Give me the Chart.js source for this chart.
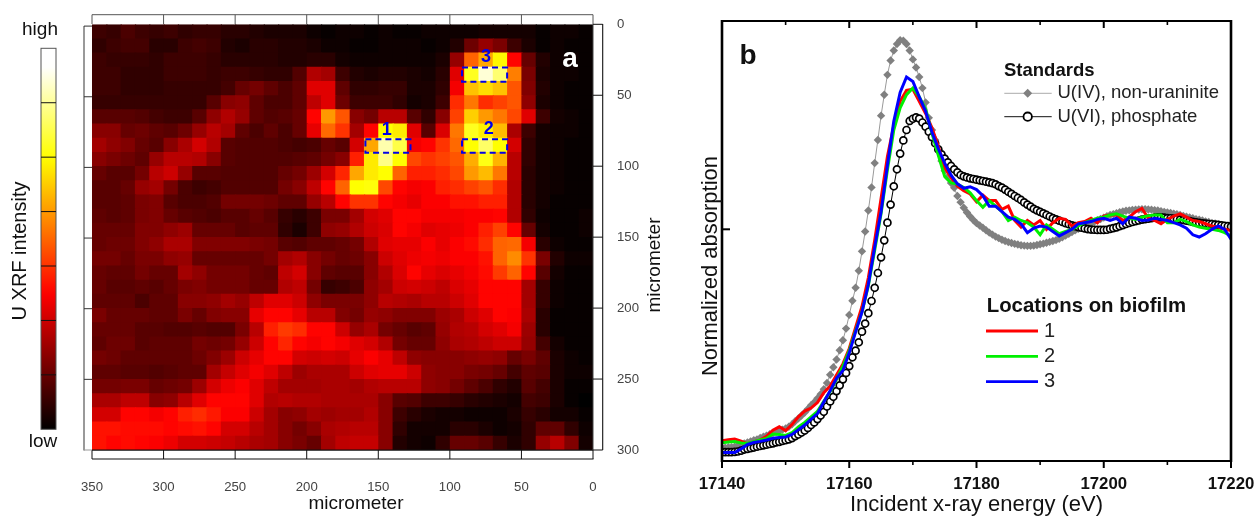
<!DOCTYPE html>
<html>
<head>
<meta charset="utf-8">
<style>
html,body{margin:0;padding:0;background:#fff;width:1258px;height:516px;overflow:hidden}
canvas{position:absolute;top:0;display:block}
#mapChart{left:0}
#specChart{left:690px}
</style>
<script src="https://cdn.jsdelivr.net/npm/chart.js@4"></script>
</head>
<body>
<canvas id="mapChart" width="680" height="516"></canvas>
<canvas id="specChart" width="568" height="516"></canvas>
<script>
// ---------- panel a: U XRF intensity (percent of colour scale), row 0 = 0-10 micrometer, col 0 = 340-350 micrometer
const intensityRows = [
[9,8,11,9,8,9,7,8,8,6,6,5,4,4,4,2,1,2,2,1,2,1,1,2,2,2,2,3,3,3,3,1,2,2,1],
[7,9,10,10,6,6,9,10,9,5,4,6,6,5,5,4,2,2,1,1,2,2,2,1,2,5,16,22,18,9,4,1,2,1,1],
[9,8,8,8,7,9,9,9,8,6,6,6,6,5,5,6,6,3,2,2,2,2,2,2,4,22,52,62,74,38,15,5,2,2,1],
[9,9,7,7,7,9,9,9,8,9,9,8,7,7,12,26,24,9,5,4,5,5,4,3,6,33,78,96,86,56,18,4,2,2,1],
[9,9,7,7,7,8,8,8,8,10,15,17,14,11,14,33,33,14,7,7,8,8,4,4,7,36,66,70,66,50,19,5,2,1,1],
[8,8,8,8,8,8,8,8,13,20,21,14,11,11,14,28,33,16,9,9,9,7,3,4,9,44,55,44,47,50,21,4,2,1,1],
[13,13,13,12,10,9,9,13,21,26,22,14,12,13,15,38,60,50,20,17,27,27,13,7,20,47,68,60,55,48,33,9,3,2,1],
[20,20,15,16,14,13,16,22,27,24,14,11,14,11,15,34,53,45,24,38,75,72,33,13,32,55,78,73,65,25,9,3,2,2,1],
[24,21,19,15,13,20,25,31,26,13,12,12,12,11,10,11,15,13,31,62,92,82,36,38,45,53,75,85,75,31,7,3,2,1,1],
[20,18,16,14,22,27,27,26,20,13,12,12,12,12,13,14,17,20,42,72,88,75,48,45,47,50,63,77,64,27,7,3,2,1,1],
[15,13,13,17,27,30,22,13,13,12,12,12,12,15,17,23,31,43,62,72,75,52,42,42,44,48,60,65,55,27,6,3,2,1,1],
[13,13,15,22,24,17,11,9,10,12,12,12,12,17,20,28,38,52,75,76,48,38,36,37,42,44,47,50,44,26,6,3,2,1,1],
[13,13,14,18,19,13,11,11,12,17,17,17,16,14,14,22,27,38,45,45,38,36,34,37,37,40,40,42,42,26,6,3,1,1,1],
[14,13,14,18,19,15,13,12,11,13,13,15,13,8,6,9,18,18,24,31,33,38,38,36,36,36,37,37,38,26,7,2,1,1,2],
[15,15,15,19,19,21,23,15,15,15,13,14,14,7,4,9,21,22,26,30,32,38,36,33,34,35,37,42,47,38,15,3,1,1,2],
[15,16,16,19,21,25,25,19,19,19,19,18,17,13,12,14,14,15,17,26,33,34,34,37,34,37,39,44,52,53,36,6,2,1,1],
[17,17,15,18,18,21,22,15,15,15,15,15,17,24,26,20,17,15,16,20,30,33,35,36,35,37,37,40,52,58,45,18,5,2,2],
[15,14,14,17,15,15,24,21,17,17,17,15,14,28,31,20,14,13,13,20,26,32,38,34,32,34,36,39,46,52,38,13,3,1,1],
[15,13,13,14,13,15,18,19,17,17,17,15,15,26,28,17,8,9,11,21,24,30,31,30,28,32,34,38,38,38,24,8,2,1,1],
[14,14,14,11,14,14,20,20,21,24,22,28,33,33,30,21,18,18,18,21,27,26,25,27,27,30,33,38,38,38,24,8,2,1,1],
[18,15,15,15,14,14,18,15,19,20,20,34,38,38,34,27,27,19,17,22,21,19,19,19,23,25,30,33,38,37,25,6,1,1,1],
[15,15,15,13,13,12,12,13,12,12,18,27,42,46,44,38,38,30,22,25,17,15,13,14,22,26,27,31,33,36,23,6,1,1,1],
[14,16,16,13,14,14,14,17,16,17,22,30,38,43,38,36,38,36,33,31,26,17,15,15,21,25,26,28,30,30,22,10,3,1,1],
[17,16,14,14,14,14,14,16,19,23,30,34,38,38,31,30,31,30,34,37,34,28,21,20,20,20,21,22,21,15,18,14,4,2,1],
[14,14,13,13,12,13,14,14,24,29,33,36,33,28,23,25,25,25,30,33,34,34,30,21,20,20,18,17,15,10,14,13,4,2,2],
[17,17,18,18,15,16,17,23,31,35,37,33,28,24,24,24,25,25,24,26,27,27,27,21,20,17,14,11,7,5,13,10,4,1,1],
[25,25,28,28,20,21,27,33,38,38,38,33,26,27,26,26,25,25,25,25,20,13,12,9,9,8,6,5,4,3,10,9,4,1,0],
[31,31,38,38,36,38,42,44,41,37,37,30,24,20,21,24,23,24,24,26,20,9,6,4,3,3,2,2,2,4,8,6,3,3,1],
[40,40,39,39,39,38,39,40,38,31,31,27,24,20,17,20,25,26,27,27,20,7,3,3,3,6,6,4,2,3,7,14,14,7,2],
[40,38,39,38,37,35,31,31,30,29,27,25,24,20,18,15,24,28,29,29,20,5,3,2,7,15,15,13,8,4,7,22,27,19,3]
];
const mapXTicks = [350,300,250,200,150,100,50,0];
const mapYTicks = [0,50,100,150,200,250,300];
const regionLabels = ['1','2','3'];
const regionX0 = [159,91.5,91.5];
const regionX1 = [127.5,60,60];
const regionY0 = [81,81,30.5];
const regionY1 = [90.5,90.5,40.5];

// ---------- panel b: normalized absorption spectra
const energyHalf = [17140,17140.5,17141,17141.5,17142,17142.5,17143,17143.5,17144,17144.5,17145,17145.5,17146,17146.5,17147,17147.5,17148,17148.5,17149,17149.5,17150,17150.5,17151,17151.5,17152,17152.5,17153,17153.5,17154,17154.5,17155,17155.5,17156,17156.5,17157,17157.5,17158,17158.5,17159,17159.5,17160,17160.5,17161,17161.5,17162,17162.5,17163,17163.5,17164,17164.5,17165,17165.5,17166,17166.5,17167,17167.5,17168,17168.5,17169,17169.5,17170,17170.5,17171,17171.5,17172,17172.5,17173,17173.5,17174,17174.5,17175,17175.5,17176,17176.5,17177,17177.5,17178,17178.5,17179,17179.5,17180,17180.5,17181,17181.5,17182,17182.5,17183,17183.5,17184,17184.5,17185,17185.5,17186,17186.5,17187,17187.5,17188,17188.5,17189,17189.5,17190,17190.5,17191,17191.5,17192,17192.5,17193,17193.5,17194,17194.5,17195,17195.5,17196,17196.5,17197,17197.5,17198,17198.5,17199,17199.5,17200,17200.5,17201,17201.5,17202,17202.5,17203,17203.5,17204,17204.5,17205,17205.5,17206,17206.5,17207,17207.5,17208,17208.5,17209,17209.5,17210,17210.5,17211,17211.5,17212,17212.5,17213,17213.5,17214,17214.5,17215,17215.5,17216,17216.5,17217,17217.5,17218,17218.5,17219,17219.5,17220];
const energyWhole = [17140,17141,17142,17143,17144,17145,17146,17147,17148,17149,17150,17151,17152,17153,17154,17155,17156,17157,17158,17159,17160,17161,17162,17163,17164,17165,17166,17167,17168,17169,17170,17171,17172,17173,17174,17175,17176,17177,17178,17179,17180,17181,17182,17183,17184,17185,17186,17187,17188,17189,17190,17191,17192,17193,17194,17195,17196,17197,17198,17199,17200,17201,17202,17203,17204,17205,17206,17207,17208,17209,17210,17211,17212,17213,17214,17215,17216,17217,17218,17219,17220];
const uIVValues = [.008,.01,.012,.013,.015,.02,.026,.03,.034,.039,.044,.048,.054,.06,.065,.071,.077,.082,.087,.092,.097,.105,.116,.13,.143,.156,.17,.186,.203,.216,.234,.253,.275,.304,.341,.375,.41,.452,.497,.55,.612,.676,.735,.812,.9,.99,1.085,1.19,1.3,1.405,1.515,1.61,1.7,1.765,1.81,1.84,1.857,1.855,1.84,1.81,1.77,1.733,1.69,1.64,1.575,
1.505,1.45,1.405,1.36,1.31,1.265,1.235,1.21,1.188,1.151,1.123,1.098,1.076,1.058,1.042,1.028,1.017,1.007,.996,.985,.976,.967,.96,.953,.947,.942,.938,.934,.931,.928,.926,.925,.925,.926,.929,.932,.935,.939,.943,.947,.951,.957,.964,.972,.98,.988,.995,1.002,1.009,1.016,1.021,1.027,1.034,1.041,1.047,1.053,1.059,1.065,1.069,1.073,1.077,1.081,1.084,1.086,1.088,1.089,1.09,1.091,1.091,1.09,1.089,1.087,1.085,1.082,1.079,1.076,1.074,1.071,1.068,1.065,1.061,1.057,1.054,1.05,1.046,1.043,1.04,1.036,1.033,1.029,1.026,1.022,1.02,1.016,1.013,1.01];
const uVIValues = [-.01,-.01,-.01,-.01,-.009,-.007,-.003,.002,.005,.008,.011,.015,.018,.021,.024,.027,.03,.034,.037,.041,.044,.048,.054,.063,.07,.079,.088,.1,.113,.125,.14,.156,.173,.197,.22,.241,.267,.293,.32,.349,.38,.42,.45,.488,.536,.573,.62,.675,.735,.802,.873,.95,1.03,1.112,1.195,1.272,1.343,1.403,1.45,1.491,1.501,1.507,1.502,1.484,1.465,1.442,1.418,1.39,1.362,1.34,1.32,1.303,1.287,1.272,1.258,1.246,1.24,1.235,1.231,1.228,1.225,1.222,1.219,1.216,1.213,1.209,1.204,1.196,1.189,1.18,1.17,1.161,1.151,1.142,1.133,1.122,1.112,1.103,1.093,1.086,1.079,1.072,1.065,1.058,1.051,1.045,1.039,1.033,1.028,1.023,1.018,1.014,1.01,1.007,1.004,1.001,.999,.998,.997,.997,.997,.998,1.002,1.005,1.009,1.014,1.019,1.024,1.029,1.033,1.037,1.04,1.044,1.046,1.048,1.05,1.053,1.054,1.054,1.053,1.051,1.05,1.048,1.046,1.044,1.042,1.039,1.037,1.034,1.031,1.029,1.027,1.026,1.024,1.023,1.021,1.02,1.018,1.016,1.014,1.012];
const location1Values = [.042,.046,.05,.04,.028,.036,.046,.062,.09,.105,.088,.115,.15,.176,.19,.215,.26,.29,.34,.39,.46,.555,.65,.78,.95,1.14,1.33,1.47,1.58,1.63,1.635,1.58,1.525,1.46,1.375,1.28,1.235,1.195,1.175,1.16,1.125,1.155,1.13,1.13,1.09,1.105,1.04,1.01,1.04,1.02,1.04,1,1.03,1.05,1.045,1.015,1.03,1.035,1.05,1.03,1.06,1.065,1.065,1.04,1.055,1.08,1.095,1.05,1.04,1.025,1.045,1.06,1.07,1.055,1.04,1.035,1.025,1.015,1.01,1,.995];
const location2Values = [.033,.036,.038,.032,.03,.038,.045,.052,.072,.07,.066,.078,.105,.125,.15,.175,.22,.265,.32,.38,.45,.54,.625,.745,.905,1.07,1.27,1.45,1.55,1.61,1.64,1.6,1.545,1.435,1.335,1.24,1.21,1.205,1.19,1.165,1.13,1.1,1.13,1.105,1.08,1.04,1.055,1.04,1.03,1.01,.975,1.02,1,.98,.99,1,1.015,1.03,1.04,1.05,1.055,1.065,1.07,1.06,1.05,1.045,1.055,1.062,1.065,1.065,1.03,1.03,1.045,1.035,1.02,1.01,1.005,1,.995,.985,.97];
const location3Values = [-.012,-.012,-.012,.005,.025,.034,.039,.045,.053,.056,.059,.07,.092,.113,.14,.165,.217,.268,.325,.36,.44,.535,.625,.75,.92,1.08,1.29,1.49,1.62,1.69,1.67,1.6,1.535,1.44,1.365,1.3,1.245,1.206,1.186,1.193,1.18,1.152,1.105,1.105,1.08,1.055,1.045,1.025,.985,1.005,1.015,1.01,.99,.97,.985,1,1.025,1.03,1.035,1.045,1.05,1.04,1.05,1.025,1.055,1.05,1.04,1.042,1.05,1.045,1.04,1.03,1.02,1.005,.975,.965,.98,1,1.015,1,.955];
const specXTicks = [17140,17160,17180,17200,17220];
const standardsTitle = 'Standards';
const standardNames = ['U(IV), non-uraninite','U(VI), phosphate'];
const locationsTitle = 'Locations on biofilm';
const locationNames = ['1','2','3'];

const FONT = '"Liberation Sans", Arial, sans-serif';
Chart.defaults.font.family = FONT;

function hot(p){ // percent -> black/red/yellow/white
  const t=Math.max(0,Math.min(100,p));
  const r=Math.min(1,t/37.5), g=Math.max(0,Math.min(1,(t-37.5)/37.5)), b=Math.max(0,(t-75)/25);
  return 'rgb('+Math.round(r*255)+','+Math.round(g*255)+','+Math.round(b*255)+')';
}
function text(ctx,s,x,y,font,color,align,rot){
  ctx.save();ctx.translate(x,y);if(rot)ctx.rotate(rot);
  ctx.font=font;ctx.fillStyle=color;ctx.textAlign=align||'center';ctx.textBaseline='middle';
  ctx.fillText(s,0,0);ctx.restore();
}
function seg(ctx,x0,y0,x1,y1,color,w){
  ctx.beginPath();ctx.strokeStyle=color;ctx.lineWidth=w;ctx.moveTo(x0,y0);ctx.lineTo(x1,y1);ctx.stroke();
}
function noPad(s){s.paddingTop=0;s.paddingBottom=0;s.paddingLeft=0;s.paddingRight=0;}

// ---------- panel a
// cells overlap by about a pixel so no light seams show; the small shift keeps the visible boundaries in place
const mapPoints=[],mapColors=[];
intensityRows.forEach((row,r)=>row.forEach((v,c)=>{
  mapPoints.push({x:350-(c+0.5)*10-0.4,y:(r+0.5)*10+0.4});
  mapColors.push(hot(v));
}));

const mapDecor={id:'mapDecor',afterDraw(ch){
  const ctx=ch.ctx,X=ch.scales.x,Y=ch.scales.y,A=ch.chartArea;
  ctx.save();
  seg(ctx,A.left,14.7,A.right,14.7,'#555',1);
  seg(ctx,A.left,459,A.right+0.5,459,'#111',1.2);
  seg(ctx,84,26,84,450.5,'#999',2);
  seg(ctx,602.7,24,602.7,450,'#111',1.1);
  seg(ctx,A.left,450.2,A.right,450.2,'#111',1.2);
  seg(ctx,A.right,A.top,A.right,450,'#444',1);
  mapXTicks.forEach(v=>{
    const p=X.getPixelForValue(v);
    seg(ctx,p,14.7,p,24,'#555',1);
    seg(ctx,p,450,p,459,'#111',1);
  });
  mapYTicks.forEach(v=>{
    const p=Y.getPixelForValue(v);
    seg(ctx,A.right,p,602.7,p,'#111',1);
    const q=p+1.8*(1-v/300);
    seg(ctx,84,q,A.left,q,v===300?'#999':'#333',1);
  });
  ctx.setLineDash([6,4]);
  regionLabels.forEach((s,i)=>{
    const x0=X.getPixelForValue(regionX0[i]),x1=X.getPixelForValue(regionX1[i]);
    const y0=Y.getPixelForValue(regionY0[i]),y1=Y.getPixelForValue(regionY1[i]);
    ctx.strokeStyle='#0000e8';ctx.lineWidth=2;ctx.strokeRect(x0,y0,x1-x0,y1-y0);
  });
  ctx.setLineDash([]);
  const bold18='bold 18px '+FONT;
  text(ctx,regionLabels[0],386.7,130.5,bold18,'#0000e8');
  text(ctx,regionLabels[1],488.7,129,bold18,'#0000e8');
  text(ctx,regionLabels[2],486,57,bold18,'#0000e8');
  text(ctx,'a',570,59,'bold 28px '+FONT,'#fff');
  const bt=48.3,bb=429.3,bl=41,br=56;
  const g=ctx.createLinearGradient(0,bb,0,bt);
  for(let i=0;i<=40;i++){g.addColorStop(i/40,hot(i/40*105));}
  ctx.fillStyle=g;ctx.fillRect(bl,bt,br-bl,bb-bt);
  ctx.strokeStyle='#555';ctx.lineWidth=1;ctx.strokeRect(bl,bt,br-bl,bb-bt);
  for(let i=1;i<7;i++){const y=bt+i*(bb-bt)/7;seg(ctx,bl,y,br,y,'#111',1);}
  const f19='19px '+FONT;
  text(ctx,'high',40,30,f19,'#111');
  text(ctx,'low',43,442,f19,'#111');
  text(ctx,'U XRF intensity',20,251,'20px '+FONT,'#111','center',-Math.PI/2);
  text(ctx,'micrometer',356,504,f19,'#111');
  text(ctx,'micrometer',655,265,f19,'#111','center',-Math.PI/2);
  ctx.restore();
}};

new Chart(document.getElementById('mapChart'),{
  type:'scatter',
  data:{datasets:[{data:mapPoints,pointStyle:'rect',pointRadius:10.96,pointHoverRadius:10.96,borderWidth:0,pointBorderWidth:0,
    pointBackgroundColor:mapColors,showLine:false}]},
  options:{
    responsive:false,animation:false,devicePixelRatio:1,events:[],
    layout:{autoPadding:false,padding:{left:92,top:24.3,right:0,bottom:0}},
    plugins:{legend:{display:false},tooltip:{enabled:false}},
    scales:{
      x:{type:'linear',reverse:true,min:0,max:350,position:'bottom',
        afterFit(s){s.height=66;noPad(s);},
        afterBuildTicks(s){s.ticks=mapXTicks.map(v=>({value:v}));},
        grid:{display:false},border:{display:false},
        ticks:{autoSkip:false,maxRotation:0,padding:21,color:'#444',font:{size:13.2}}},
      y:{type:'linear',reverse:true,min:0,max:300,position:'right',
        afterFit(s){s.width=87;noPad(s);},
        afterBuildTicks(s){s.ticks=mapYTicks.map(v=>({value:v}));},
        grid:{display:false},border:{display:false},
        ticks:{autoSkip:false,padding:16,color:'#444',font:{size:13.2}}}
    }
  },
  plugins:[mapDecor]
});

// ---------- panel b
const pts=(xs,ys)=>xs.map((x,i)=>({x,y:ys[i]}));
const specDecor={id:'specDecor',afterDraw(ch){
  const ctx=ch.ctx,X=ch.scales.x,Y=ch.scales.y,A=ch.chartArea;
  ctx.save();
  for(let v=17140;v<=17220;v+=10){
    const p=X.getPixelForValue(v),major=(v-17140)%20===0;
    seg(ctx,p,A.top,p,A.top+(major?7:4),'#000',major?2:1.6);
    seg(ctx,p,A.bottom,p,A.bottom+(major?7:4),'#000',major?2:1.6);
  }
  const py=Y.getPixelForValue(1);
  seg(ctx,A.left,py,A.left+8,py,'#000',2);
  seg(ctx,A.left,A.top,A.right,A.top,'#000',2);
  seg(ctx,A.left,A.bottom,A.right,A.bottom,'#000',2);
  seg(ctx,A.left,A.top-1,A.left,A.bottom+1,'#000',2.6);
  seg(ctx,A.right,A.top-1,A.right,A.bottom+1,'#000',2.6);
  const ox=-690;
  text(ctx,'b',748+ox,56,'bold 28px '+FONT,'#111');
  text(ctx,'Normalized absorption',711+ox,266,'22px '+FONT,'#111','center',-Math.PI/2);
  const fb='bold 18.5px '+FONT,fr='18.5px '+FONT;
  text(ctx,standardsTitle,1004+ox,71,fb,'#111','left');
  seg(ctx,1004.3+ox,93.3,1051.7+ox,93.3,'#aaa',1);
  ctx.fillStyle='#808080';ctx.beginPath();
  const mx=1027.7+ox,my=93.3;ctx.moveTo(mx-4.5,my);ctx.lineTo(mx,my-4.5);ctx.lineTo(mx+4.5,my);ctx.lineTo(mx,my+4.5);ctx.closePath();ctx.fill();
  text(ctx,standardNames[0],1057.5+ox,93.3,fr,'#222','left');
  seg(ctx,1004.3+ox,116.7,1051.7+ox,116.7,'#111',1);
  ctx.beginPath();ctx.arc(1027.7+ox,116.7,4.2,0,Math.PI*2);ctx.fillStyle='#fff';ctx.fill();ctx.strokeStyle='#000';ctx.lineWidth=1.8;ctx.stroke();
  text(ctx,standardNames[1],1057.5+ox,116.7,fr,'#222','left');
  text(ctx,locationsTitle,986.7+ox,306,'bold 20.4px '+FONT,'#111','left');
  const cols=['#ff0000','#00f000','#0000ff'],ys=[331,356.3,381.7];
  locationNames.forEach((s,i)=>{
    seg(ctx,986+ox,ys[i],1038+ox,ys[i],cols[i],2.8);
    text(ctx,s,1044+ox,ys[i],'20px '+FONT,'#222','left');
  });
  ctx.restore();
}};

new Chart(document.getElementById('specChart'),{
  type:'line',
  data:{datasets:[
    {label:'3',data:pts(energyWhole,location3Values),borderColor:'#0000ff',borderWidth:3,pointRadius:0,tension:0},
    {label:'2',data:pts(energyWhole,location2Values),borderColor:'#00f000',borderWidth:3,pointRadius:0,tension:0},
    {label:'1',data:pts(energyWhole,location1Values),borderColor:'#ff0000',borderWidth:3,pointRadius:0,tension:0},
    {label:standardNames[1],data:pts(energyHalf,uVIValues),borderColor:'#000',borderWidth:1,pointStyle:'circle',pointRadius:3.5,pointBorderWidth:1.7,pointBorderColor:'#000',pointBackgroundColor:'#fff',tension:0},
    {label:standardNames[0],data:pts(energyHalf,uIVValues),borderColor:'#999',borderWidth:1,pointStyle:'rectRot',pointRadius:4.2,pointBorderWidth:0,pointBackgroundColor:'#808080',tension:0}
  ]},
  options:{
    responsive:false,animation:false,devicePixelRatio:1,events:[],
    layout:{autoPadding:false,padding:{left:32,top:21,right:27,bottom:0}},
    plugins:{legend:{display:false},tooltip:{enabled:false}},
    scales:{
      x:{type:'linear',min:17140,max:17220,position:'bottom',
        afterFit(s){s.height=55;noPad(s);},
        afterBuildTicks(s){s.ticks=specXTicks.map(v=>({value:v}));},
        grid:{display:false},border:{display:false},
        title:{display:true,text:'Incident x-ray energy (eV)',color:'#111',font:{size:22,lineHeight:1},padding:0},
        ticks:{autoSkip:false,maxRotation:0,padding:5,color:'#111',font:{size:16.8,weight:'bold'},
          callback:v=>String(v)}},
      y:{type:'linear',min:-0.05,max:1.944,display:false}
    }
  },
  plugins:[specDecor]
});
</script>
</body>
</html>
